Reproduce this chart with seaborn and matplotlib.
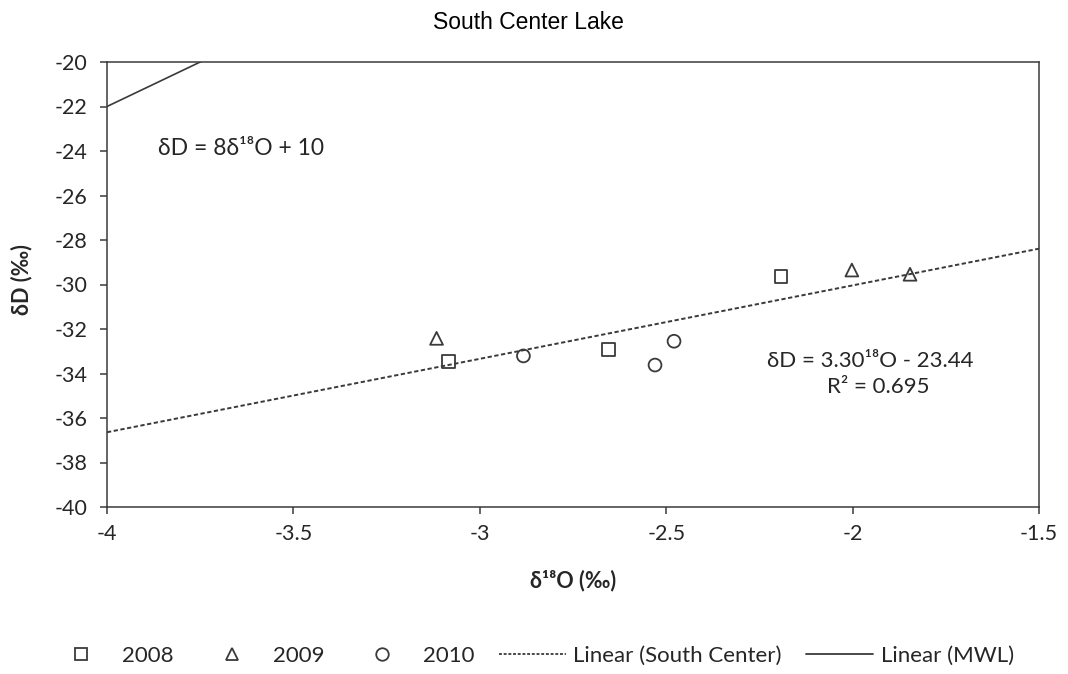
import numpy as np
import pandas as pd
import matplotlib
matplotlib.use("Agg")
import matplotlib.pyplot as plt
from matplotlib.lines import Line2D
from matplotlib.ticker import FixedLocator, FuncFormatter
import seaborn as sns

# Isotope samples, South Center Lake
years = ["2008", "2008", "2008", "2009", "2009", "2009", "2010", "2010", "2010"]
d18o = [-3.085, -2.655, -2.192, -3.116, -2.002, -1.846, -2.883, -2.530, -2.479]
dD = [-33.47, -32.91, -29.65, -32.42, -29.35, -29.54, -33.21, -33.62, -32.55]

# Least-squares fit of the lake samples and the meteoric water line
fit_slope = 3.30
fit_intercept = -23.44
fit_r2 = 0.695
mwl_slope = 8
mwl_intercept = 10

x_ticks = [-4, -3.5, -3, -2.5, -2, -1.5]
y_ticks = [-40, -38, -36, -34, -32, -30, -28, -26, -24, -22, -20]
legend_labels = ["2008", "2009", "2010", "Linear (South Center)", "Linear (MWL)"]

ink = "#3a3a3a"
text_ink = "#262626"
body_font = ["Lato", "DejaVu Sans"]

sns.set_style("white")
plt.rcParams["font.family"] = body_font
plt.rcParams["axes.unicode_minus"] = False

fig = plt.figure(figsize=(10.68, 6.74), dpi=100)
ax = fig.add_axes([107 / 1068, 1 - 507 / 674, 932 / 1068, 445 / 674])

df = pd.DataFrame({"year": years, "d18O": d18o, "dD": dD})
markers = {"2008": "s", "2009": "^", "2010": "o"}
for yr, mk in markers.items():
    sub = df[df["year"] == yr]
    sns.scatterplot(data=sub, x="d18O", y="dD", marker=mk, s=85,
                    facecolors="none", edgecolor=ink, color=ink,
                    linewidth=1.3, legend=False, ax=ax, zorder=3)

# Both lines span the full x-axis and are clipped by the axes box
xr = np.array([x_ticks[0], x_ticks[-1]], dtype=float)
sns.lineplot(x=xr, y=fit_slope * xr + fit_intercept, color=ink,
             linestyle=(0, (2.2, 1.3)), linewidth=1.4, ax=ax, zorder=2)
sns.lineplot(x=xr, y=mwl_slope * xr + mwl_intercept, color=ink,
             linewidth=1.2, ax=ax, zorder=2)

ax.set_xlim(x_ticks[0], x_ticks[-1])
ax.set_ylim(y_ticks[0], y_ticks[-1])
ax.xaxis.set_major_locator(FixedLocator(x_ticks))
ax.yaxis.set_major_locator(FixedLocator(y_ticks))
ax.xaxis.set_major_formatter(FuncFormatter(lambda v, p: f"{v:g}"))
ax.yaxis.set_major_formatter(FuncFormatter(lambda v, p: f"{v:g}"))
ax.tick_params(axis="both", which="major", direction="out", length=5,
               width=1.1, color=ink, labelsize=15.5, labelcolor=text_ink,
               bottom=True, left=True, top=False, right=False)
ax.tick_params(axis="y", pad=9)
ax.tick_params(axis="x", pad=7)
for sp in ax.spines.values():
    sp.set_visible(True)
    sp.set_color(ink)
    sp.set_linewidth(1.1)
ax.grid(False)

ax.set_xlabel("δ¹⁸O (‰)", fontsize=15.5, fontweight="bold", color=text_ink)
ax.set_ylabel("δD (‰)", fontsize=15.5, fontweight="bold", color=text_ink)
ax.xaxis.set_label_coords(0.5, -0.14)
ax.yaxis.set_label_coords(-0.08, 0.51)

ax.text(-3.863, -24.18, "δD = 8δ¹⁸O + 10", fontsize=16.5, color=text_ink,
        ha="left", va="baseline")
ax.text(-1.953, -33.69, f"δD = {fit_slope:.2f}¹⁸O - {abs(fit_intercept):.2f}",
        fontsize=16, color=text_ink, ha="center", va="baseline")
ax.text(-1.93, -34.89, f"R² = {fit_r2:.3f}", fontsize=16, color=text_ink,
        ha="center", va="baseline")

fig.text(0.495, 1 - 29 / 674, "South Center Lake", fontsize=16.5,
         family="Liberation Sans", color="black", ha="center", va="baseline")

mk_kw = dict(linestyle="none", markersize=9, markerfacecolor="none",
             markeredgecolor=ink, markeredgewidth=1.3)
handles = [
    Line2D([], [], marker="s", **mk_kw),
    Line2D([], [], marker="^", **mk_kw),
    Line2D([], [], marker="o", **mk_kw),
    Line2D([], [], color=ink, linestyle=(0, (1.6, 1.0)), linewidth=1.3),
    Line2D([], [], color=ink, linewidth=1.3),
]
fig.legend(handles, legend_labels, loc="center",
           bbox_to_anchor=(0.497, 1 - 656 / 674), ncol=5, frameon=False,
           fontsize=16, handlelength=3.0, handletextpad=0.35,
           columnspacing=1.1, labelcolor=text_ink)

fig.savefig("out.png", dpi=100, facecolor="white")
